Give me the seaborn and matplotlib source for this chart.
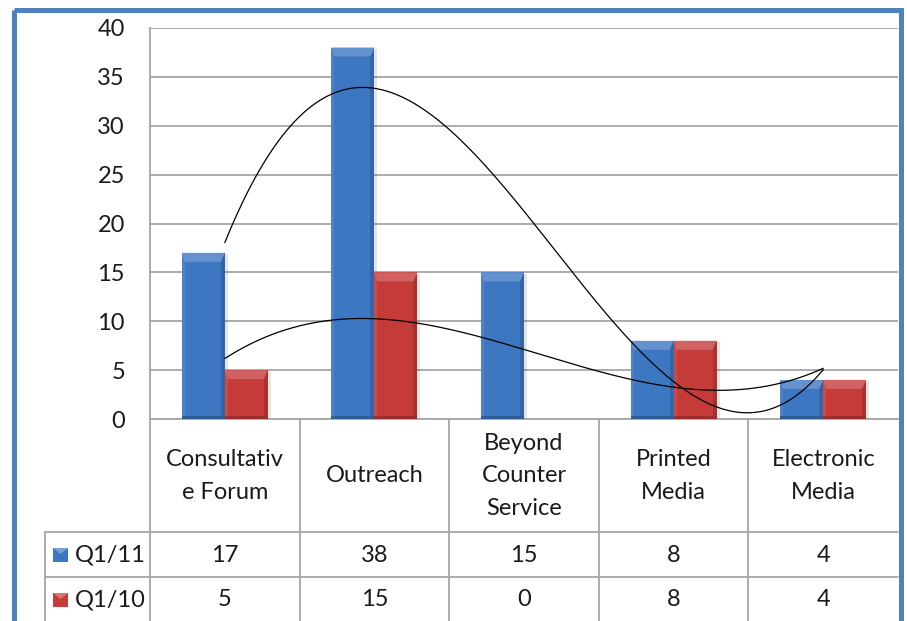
import numpy as np
import pandas as pd
import matplotlib
matplotlib.use("Agg")
import matplotlib.pyplot as plt
import seaborn as sns
from matplotlib.patches import Polygon, Rectangle
from matplotlib.colors import to_rgb

# ---- data ----
categories = ["Consultativ\ne Forum", "Outreach", "Beyond\nCounter\nService",
              "Printed\nMedia", "Electronic\nMedia"]
series_names = ["Q1/11", "Q1/10"]
q1_11 = [17, 38, 15, 8, 4]
q1_10 = [5, 15, 0, 8, 4]
y_ticks = [0, 5, 10, 15, 20, 25, 30, 35, 40]

sns.set_theme(style="white")
plt.rcParams["font.family"] = ["Lato", "DejaVu Sans"]

W, H = 907, 621
fig = plt.figure(figsize=(W / 100, H / 100), dpi=100)
fig.patch.set_facecolor("white")

plot_left, plot_right, plot_top, plot_bottom = 150, 898, 28, 419
ax = fig.add_axes([plot_left / W, 1 - plot_bottom / H,
                   (plot_right - plot_left) / W, (plot_bottom - plot_top) / H])

df = pd.DataFrame({
    "category": categories * 2,
    "series": [series_names[0]] * len(categories) + [series_names[1]] * len(categories),
    "value": q1_11 + q1_10,
})
base_colors = {"Q1/11": "#3D77C2", "Q1/10": "#C53B39"}
sns.barplot(data=df, x="category", y="value", hue="series", order=categories,
            hue_order=series_names, palette=base_colors, width=0.575, saturation=1,
            ax=ax, legend=False, edgecolor="none", linewidth=0, zorder=3)

ax.set_xlim(-0.5, len(categories) - 0.5)
ax.set_ylim(0, 40)
ax.set_yticks(y_ticks)
ax.set_xticks([])
ax.set_xlabel("")
ax.set_ylabel("")
grid_c = "#A6A6A6"
ax.yaxis.grid(True, color=grid_c, linewidth=1.3, zorder=0)
ax.set_axisbelow(True)
for s in ["top", "right"]:
    ax.spines[s].set_visible(False)
for s in ["left", "bottom"]:
    ax.spines[s].set_color(grid_c)
    ax.spines[s].set_linewidth(1.3)
ax.tick_params(axis="y", length=0, pad=18, labelsize=17, labelcolor="#1a1a1a")

# pixel -> data conversion for bevel sizes
dx = len(categories) / (plot_right - plot_left)
dy = 40 / (plot_bottom - plot_top)


def mix(c, other, t):
    c = np.array(to_rgb(c))
    o = np.array(to_rgb(other))
    return tuple(c * (1 - t) + o * t)


bars = [p for p in ax.patches if isinstance(p, Rectangle)]
for p in bars:
    x0, w, h = p.get_x(), p.get_width(), p.get_height()
    if h <= 0:
        continue
    col = p.get_facecolor()[:3]
    x1 = x0 + w
    # soft drop shadow
    ax.add_patch(Rectangle((x0 + 2 * dx, -2 * dy), w + 1 * dx, h + 0.5 * dy,
                           facecolor="black", alpha=0.10, edgecolor="none", zorder=2.5))
    # bevelled edges
    ax.add_patch(Rectangle((x0, 0), 3 * dx, h, facecolor=mix(col, "white", 0.08),
                           edgecolor="none", zorder=3.1))
    ax.add_patch(Rectangle((x1 - 4 * dx, 0), 4 * dx, h, facecolor=mix(col, "black", 0.15),
                           edgecolor="none", zorder=3.1))
    ax.add_patch(Rectangle((x0, 0), w, 3 * dy, facecolor=mix(col, "black", 0.22),
                           edgecolor="none", zorder=3.2))
    bev = 9 * dy
    ax.add_patch(Polygon([(x0, h), (x1, h), (x1 - 4 * dx, h - bev), (x0 + 3 * dx, h - bev)],
                         closed=True, facecolor=mix(col, "white", 0.2),
                         edgecolor="none", zorder=3.3))

# cubic trendlines through the category positions
xpos = np.arange(len(categories))
xs = np.linspace(0, len(categories) - 1, 300)
for vals in (q1_11, q1_10):
    coef = np.polyfit(xpos, vals, 3)
    ax.plot(xs, np.polyval(coef, xs), color="black", linewidth=0.9, zorder=5)

# ---- data table below the chart ----
tab = fig.add_axes([0, 0, 1, 1], facecolor="none")
tab.set_xlim(0, W)
tab.set_ylim(H, 0)
tab.axis("off")

col_w = (plot_right - plot_left) / len(categories)
row1, row2 = 532, 577
lw = 1.3
for i in range(len(categories)):
    xv = plot_left + i * col_w
    tab.plot([xv, xv], [plot_bottom, H + 5], color=grid_c, lw=lw)
tab.plot([45, 45], [row1, H + 5], color=grid_c, lw=lw)
tab.plot([45, plot_right], [row1, row1], color=grid_c, lw=lw)
tab.plot([45, plot_right], [row2, row2], color=grid_c, lw=lw)

fs = 17
txt_c = "#1a1a1a"
for i, cat in enumerate(categories):
    cx = plot_left + (i + 0.5) * col_w
    tab.text(cx, 476, cat, ha="center", va="center", fontsize=fs,
             linespacing=1.7, color=txt_c)
    tab.text(cx, 555, str(q1_11[i]), ha="center", va="center", fontsize=fs, color=txt_c)
    tab.text(cx, 600, str(q1_10[i]), ha="center", va="center", fontsize=fs, color=txt_c)

for name, yc in zip(series_names, (555, 600)):
    col = base_colors[name]
    tab.add_patch(Rectangle((53, yc - 7), 15, 14, facecolor=col, edgecolor="none"))
    tab.add_patch(Polygon([(53, yc - 7), (68, yc - 7), (60.5, yc - 1)], closed=True,
                          facecolor=mix(col, "white", 0.3), edgecolor="none"))
    tab.text(75, yc, name, ha="left", va="center", fontsize=fs, color=txt_c)

# outer frame
tab.add_patch(Rectangle((13.5, 9.5), 887.5, 640, facecolor="none",
                        edgecolor="#4F81BD", linewidth=3.6, zorder=10))

fig.savefig("out.png", dpi=100)
